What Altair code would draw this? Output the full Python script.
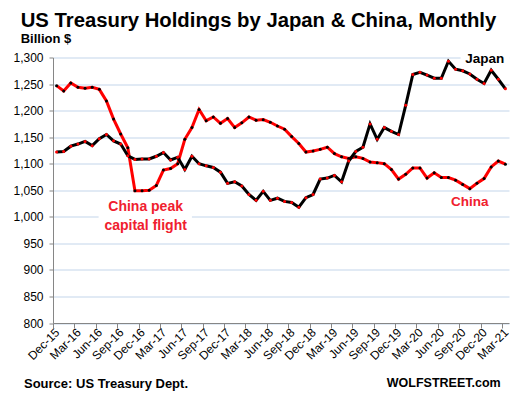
import altair as alt
import pandas as pd

tick_labels = ["Dec-15", "Mar-16", "Jun-16", "Sep-16", "Dec-16", "Mar-17", "Jun-17",
               "Sep-17", "Dec-17", "Mar-18", "Jun-18", "Sep-18", "Dec-18", "Mar-19",
               "Jun-19", "Sep-19", "Dec-19", "Mar-20", "Jun-20", "Sep-20", "Dec-20", "Mar-21"]

japan = [1122, 1123, 1133, 1137, 1142, 1134, 1147, 1155, 1143, 1137,
         1115, 1108, 1109, 1109, 1114, 1121, 1107, 1112, 1089, 1114,
         1100, 1096, 1093, 1084, 1063, 1066, 1058, 1042, 1031, 1048,
         1031, 1035, 1029, 1027, 1018, 1036, 1042, 1071, 1073, 1078,
         1066, 1105, 1123, 1131, 1175, 1146, 1168, 1161, 1155, 1210,
         1268, 1272, 1267, 1261, 1261, 1293, 1278, 1275, 1269, 1259,
         1251, 1276, 1259, 1241]

china = [1247, 1237, 1252, 1244, 1242, 1244, 1240, 1218, 1184, 1156,
         1130, 1049, 1049, 1050, 1059, 1088, 1091, 1100, 1146, 1168,
         1202, 1181, 1188, 1176, 1185, 1168, 1177, 1188, 1182, 1183,
         1178, 1171, 1165, 1151, 1138, 1122, 1124, 1127, 1131, 1119,
         1113, 1110, 1113, 1110, 1103, 1102, 1100, 1089, 1071, 1080,
         1092, 1092, 1073, 1083, 1074, 1074, 1069, 1061, 1053, 1063,
         1072, 1094, 1105, 1099]

n = len(japan)
df_japan = pd.DataFrame({"i": list(range(n)), "v": japan})
df_china = pd.DataFrame({"i": list(range(n)), "v": china})

RED = "#ff0000"
TXT_RED = "#f0202e"
FONT = "Liberation Sans"

label_expr = "[" + ",".join(f"'{t}'" for t in tick_labels) + "][round((datum.value + 0.5) / 3)]"

x_scale = alt.Scale(domain=[-0.5, n - 0.5], nice=False, zero=False)
y_scale = alt.Scale(domain=[800, 1300], nice=False, zero=False)

x_axis = alt.Axis(values=[-0.5 + 3 * k for k in range(len(tick_labels))],
                  labelExpr=label_expr, labelAngle=-45, labelAlign="right",
                  labelBaseline="middle", labelOffset=4, labelPadding=2,
                  labelOverlap=False, labelBound=False, labelFlush=False,
                  tickSize=5, grid=False, title=None, labelFontSize=12)
y_axis = alt.Axis(values=list(range(800, 1301, 50)), format=",.0f", grid=True,
                  labelOverlap=False, labelFlush=False,
                  tickSize=4, labelPadding=6, title=None, labelFontSize=12)


def xenc(field):
    return alt.X(field, scale=x_scale, axis=x_axis)


def yenc(field):
    return alt.Y(field, scale=y_scale, axis=y_axis)


# white backgrounds behind labels (hide gridlines)
bg = pd.DataFrame({"x1": [56.7, 5.9], "x2": [63.6, 19.0],
                   "y1": [1284, 967], "y2": [1314, 1035]})
bg_layer = alt.Chart(bg).mark_rect(color="white").encode(
    x=xenc("x1:Q"), x2="x2:Q", y=yenc("y1:Q"), y2="y2:Q")

japan_line = alt.Chart(df_japan).mark_line(color="black", strokeWidth=3).encode(
    x=xenc("i:Q"), y=yenc("v:Q"))
japan_pts = alt.Chart(df_japan).mark_circle(color=RED, size=9, opacity=1).encode(
    x=xenc("i:Q"), y=yenc("v:Q"))
china_line = alt.Chart(df_china).mark_line(color=RED, strokeWidth=3).encode(
    x=xenc("i:Q"), y=yenc("v:Q"))
china_pts = alt.Chart(df_china).mark_circle(color="black", size=9, opacity=1).encode(
    x=xenc("i:Q"), y=yenc("v:Q"))

ann = pd.DataFrame({
    "text": ["China peak", "capital flight", "China", "Japan"],
    "i": [12.5, 12.5, 58.0, 60.1],
    "v": [1011, 976, 1020, 1290],
    "color": [TXT_RED, TXT_RED, TXT_RED, "black"],
    "size": [14, 14, 13.5, 13.5],
})
ann_layer = alt.Chart(ann).mark_text(font=FONT, fontWeight="bold", align="center",
                                     baseline="alphabetic").encode(
    x=xenc("i:Q"), y=yenc("v:Q"), text="text:N",
    color=alt.Color("color:N", scale=None),
    size=alt.Size("size:Q", scale=None))


def chrome(text, px, py, size, align="left"):
    return alt.Chart(pd.DataFrame({"a": [0]})).mark_text(
        text=text, font=FONT, fontWeight="bold", fontSize=size, align=align,
        baseline="alphabetic", color="black").encode(x=alt.value(px), y=alt.value(py))


title = chrome("US Treasury Holdings by Japan & China, Monthly", -32.3, -31.0, 20.3)
subtitle = chrome("Billion $", -32.3, -14.8, 13)
source = chrome("Source: US Treasury Dept.", -29, 330.8, 13)
site = chrome("WOLFSTREET.com", 447.7, 329.8, 12.5, align="right")

chart = alt.layer(bg_layer, china_line, china_pts, japan_line, japan_pts,
                  ann_layer, title, subtitle, source, site).properties(
    width=456, height=265.5,
    autosize=alt.AutoSizeParams(type="none"),
    padding={"left": 45, "top": 49.5, "right": 4, "bottom": 68},
).configure_view(stroke=None).configure_axis(
    labelFont=FONT, labelColor="black", domainColor="#868686", tickColor="#868686",
    gridColor="#c3d5ea", domainWidth=1, gridWidth=1,
)

chart.save("out.html", embed_options={"renderer": "svg", "actions": False})
